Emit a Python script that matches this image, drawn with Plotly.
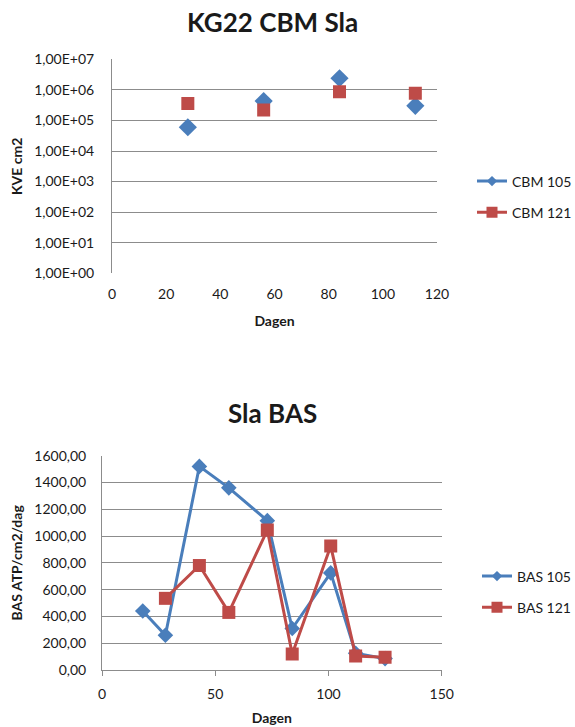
import plotly.graph_objects as go

# --- Chart 1 data: KG22 CBM Sla ---
cbm_days = [28, 56, 84, 112]
cbm105 = [6.0e4, 4.3e5, 2.4e6, 3.0e5]
cbm121 = [3.6e5, 2.2e5, 8.7e5, 7.8e5]
cbm_tickvals = [1e0, 1e1, 1e2, 1e3, 1e4, 1e5, 1e6, 1e7]
cbm_ticktext = ["1,00E+00", "1,00E+01", "1,00E+02", "1,00E+03",
                "1,00E+04", "1,00E+05", "1,00E+06", "1,00E+07"]

# --- Chart 2 data: Sla BAS ---
bas105_days = [18, 28, 43, 56, 73, 84, 101, 112, 125]
bas105 = [440, 260, 1520, 1360, 1115, 310, 725, 125, 85]
bas121_days = [28, 43, 56, 73, 84, 101, 112, 125]
bas121 = [535, 780, 430, 1045, 120, 925, 105, 95]

BLUE = "#4A7EBB"
RED = "#BE4B48"
GRID = "#8C8C8C"
FONT = "Lato"
TXT = "#1a1a1a"

fig = go.Figure()

# Chart 1 (markers only, legend shows line+marker)
fig.add_trace(go.Scatter(x=cbm_days, y=cbm105, mode="markers", xaxis="x", yaxis="y",
                         marker=dict(symbol="diamond", size=14, color=BLUE),
                         showlegend=False, name="CBM 105"))
fig.add_trace(go.Scatter(x=cbm_days, y=cbm121, mode="markers", xaxis="x", yaxis="y",
                         marker=dict(symbol="square", size=13, color=RED),
                         showlegend=False, name="CBM 121"))
fig.add_trace(go.Scatter(x=[None], y=[None], mode="lines+markers", xaxis="x", yaxis="y",
                         line=dict(color=BLUE, width=3),
                         marker=dict(symbol="diamond", size=8, color=BLUE),
                         name="CBM 105", legend="legend", legendgroup="a"))
fig.add_trace(go.Scatter(x=[None], y=[None], mode="lines+markers", xaxis="x", yaxis="y",
                         line=dict(color=RED, width=3),
                         marker=dict(symbol="square", size=11, color=RED),
                         name="CBM 121", legend="legend", legendgroup="b"))

# Chart 2
fig.add_trace(go.Scatter(x=bas105_days, y=bas105, mode="lines+markers", xaxis="x2", yaxis="y2",
                         line=dict(color=BLUE, width=3),
                         marker=dict(symbol="diamond", size=12, color=BLUE),
                         name="BAS 105", showlegend=False))
fig.add_trace(go.Scatter(x=bas121_days, y=bas121, mode="lines+markers", xaxis="x2", yaxis="y2",
                         line=dict(color=RED, width=3),
                         marker=dict(symbol="square", size=13, color=RED),
                         name="BAS 121", showlegend=False))
fig.add_trace(go.Scatter(x=[None], y=[None], mode="lines+markers", xaxis="x2", yaxis="y2",
                         line=dict(color=BLUE, width=3),
                         marker=dict(symbol="diamond", size=8, color=BLUE),
                         name="BAS 105", legend="legend2", legendgroup="c"))
fig.add_trace(go.Scatter(x=[None], y=[None], mode="lines+markers", xaxis="x2", yaxis="y2",
                         line=dict(color=RED, width=3),
                         marker=dict(symbol="square", size=11, color=RED),
                         name="BAS 121", legend="legend2", legendgroup="d"))

axis_font = dict(family=FONT, size=14, color=TXT)
title_font = dict(family=FONT, size=14, color=TXT)

fig.update_layout(
    width=575, height=727,
    margin=dict(l=0, r=0, t=0, b=0, autoexpand=False),
    paper_bgcolor="white", plot_bgcolor="white",
    separators=",.",
    font=dict(family=FONT, color=TXT),
    xaxis=dict(domain=[112/575, 437/575], anchor="y", range=[0, 120], automargin=False,
               tickvals=[0, 20, 40, 60, 80, 100, 120], showgrid=False,
               zeroline=False, showline=False, ticks="", tickfont=axis_font,
               ticklabelstandoff=11,
               title=dict(text="<b>Dagen</b>", font=title_font, standoff=14)),
    yaxis=dict(domain=[1-273.3/727, 1-59.3/727], anchor="x", type="log", automargin=False,
               range=[0, 7], tickvals=cbm_tickvals, ticktext=cbm_ticktext,
               showgrid=True, gridcolor=GRID, gridwidth=1, zeroline=False,
               showline=True, linecolor=GRID, linewidth=1, ticks="",
               tickfont=axis_font, ticklabelstandoff=14,
               title=dict(text="<b>KVE cm2</b>", font=title_font, standoff=8)),
    xaxis2=dict(domain=[102/575, 441.7/575], anchor="y2", range=[0, 150], automargin=False,
                tickvals=[0, 50, 100, 150], showgrid=False, zeroline=False,
                showline=True, linecolor=GRID, linewidth=1,
                ticks="outside", ticklen=5, tickcolor=GRID, tickfont=axis_font,
                ticklabelstandoff=6,
                title=dict(text="<b>Dagen</b>", font=title_font, standoff=12)),
    yaxis2=dict(domain=[1-670/727, 1-455.7/727], anchor="x2", range=[0, 1600], automargin=False,
                tickvals=[0, 200, 400, 600, 800, 1000, 1200, 1400, 1600],
                tickformat=".2f", showgrid=True, gridcolor=GRID, gridwidth=1,
                zeroline=False, showline=True, linecolor=GRID, linewidth=1,
                ticks="", tickfont=axis_font, ticklabelstandoff=12,
                title=dict(text="<b>BAS ATP/cm2/dag</b>", font=title_font, standoff=8)),
    legend=dict(x=472/575, xanchor="left", y=1-197/727, yanchor="middle",
                font=dict(family=FONT, size=14, color=TXT), tracegroupgap=10,
                traceorder="grouped", bgcolor="rgba(0,0,0,0)", itemwidth=30),
    legend2=dict(x=477/575, xanchor="left", y=1-592/727, yanchor="middle",
                 font=dict(family=FONT, size=14, color=TXT), tracegroupgap=10,
                 traceorder="grouped", bgcolor="rgba(0,0,0,0)", itemwidth=30),
    annotations=[
        dict(text="<b>KG22 CBM Sla</b>", x=272/575, y=1-22/727, xref="paper", yref="paper",
             xanchor="center", yanchor="middle", showarrow=False,
             font=dict(family=FONT, size=26, color=TXT)),
        dict(text="<b>Sla BAS</b>", x=272/575, y=1-413/727, xref="paper", yref="paper",
             xanchor="center", yanchor="middle", showarrow=False,
             font=dict(family=FONT, size=26, color=TXT)),
    ],
)

fig.write_html("out.html")
